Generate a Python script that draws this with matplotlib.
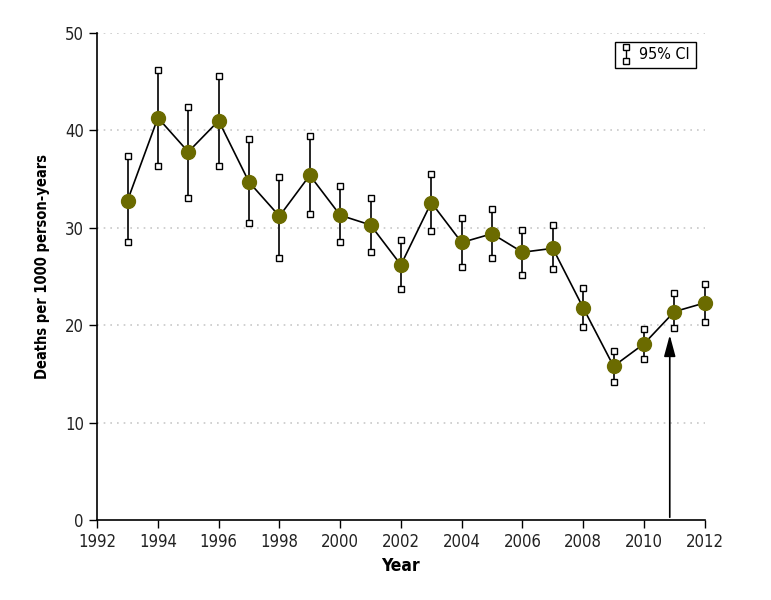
import numpy as np
import matplotlib.pyplot as plt
from matplotlib.legend_handler import HandlerBase
from matplotlib.lines import Line2D

plt.rcParams['font.family'] = ['DejaVu Sans']
plt.rcParams['font.stretch'] = 'condensed'

# data
years = [1993, 1994, 1995, 1996, 1997, 1998, 1999, 2000, 2001, 2002,
         2003, 2004, 2005, 2006, 2007, 2008, 2009, 2010, 2011, 2012]
rate = [32.8, 41.3, 37.8, 41.0, 34.7, 31.2, 35.4, 31.3, 30.3, 26.2,
        32.6, 28.5, 29.4, 27.5, 27.9, 21.8, 15.8, 18.1, 21.4, 22.3]
ci_upper = [37.4, 46.2, 42.4, 45.6, 39.1, 35.2, 39.4, 34.3, 33.1, 28.8,
            35.5, 31.0, 31.9, 29.8, 30.3, 23.8, 17.4, 19.6, 23.3, 24.2]
ci_lower = [28.5, 36.3, 33.1, 36.3, 30.5, 26.9, 31.4, 28.5, 27.5, 23.7,
            29.7, 26.0, 26.9, 25.2, 25.8, 19.8, 14.2, 16.5, 19.7, 20.3]
arrow_year = 2010.85
arrow_top = 19.0

x_ticks = list(range(1992, 2013, 2))
y_ticks = [0, 10, 20, 30, 40, 50]


class CIHandler(HandlerBase):
    # little vertical bar with two open squares, like the CI whiskers
    def create_artists(self, legend, orig_handle, xdescent, ydescent,
                       width, height, fontsize, trans):
        cx = width / 2 - xdescent
        y0 = -ydescent - 1
        y1 = height - ydescent + 1
        ln = Line2D([cx, cx], [y0, y1], color='black', lw=1, transform=trans)
        caps = Line2D([cx, cx], [y0, y1], ls='none', marker='s', ms=4.5,
                      mfc='white', mec='black', mew=1, transform=trans)
        return [ln, caps]


fig = plt.figure(figsize=(7.71, 6), dpi=100)
ax = fig.add_axes([0.126, 0.133, 0.788, 0.812])

yrs = np.array(years)
lo = np.array(ci_lower)
hi = np.array(ci_upper)
ax.vlines(yrs, lo, hi, color='black', lw=1.2, zorder=2, clip_on=False)
ax.plot(yrs, hi, ls='none', marker='s', ms=4.5, mfc='white', mec='black', mew=1,
        zorder=3, clip_on=False)
ax.plot(yrs, lo, ls='none', marker='s', ms=4.5, mfc='white', mec='black', mew=1,
        zorder=3, clip_on=False)
ax.plot(yrs, rate, color='black', lw=1.2, zorder=4, clip_on=False)
ax.plot(yrs, rate, ls='none', marker='o', ms=10, color='#6b6b00', zorder=5, clip_on=False)

ax.annotate('', xy=(arrow_year, arrow_top), xytext=(arrow_year, 0.3),
            arrowprops=dict(arrowstyle='-|>,head_length=1.3,head_width=0.35',
                            color='black', lw=1.2, mutation_scale=10,
                            shrinkA=0, shrinkB=0))

ax.set_xlim(1992, 2012)
ax.set_ylim(0, 50)
ax.set_xticks(x_ticks)
ax.set_yticks(y_ticks)
ax.tick_params(direction='out', length=6, width=1, labelsize=12, color='black',
               labelcolor='#222222')
for y in y_ticks[1:]:
    ax.axhline(y, color='#c8c8c8', lw=1.2, ls=(0, (1, 3)), zorder=0)

ax.spines['top'].set_visible(False)
ax.spines['right'].set_visible(False)
ax.spines['left'].set_linewidth(1.2)
ax.spines['bottom'].set_linewidth(1.2)

ax.set_xlabel('Year', fontsize=12.5, fontweight='bold', labelpad=4)
ax.set_ylabel('Deaths per 1000 person-years', fontsize=10.5, fontweight='bold')
ax.yaxis.set_label_coords(-0.077, 0.52)

proxy = Line2D([], [])
leg = ax.legend([proxy], ['95% CI'], handler_map={Line2D: CIHandler()},
                loc='upper right', bbox_to_anchor=(0.985, 0.982), fontsize=11.5,
                fancybox=False, edgecolor='black', handlelength=0.7,
                handletextpad=0.5, borderpad=0.35, borderaxespad=0,
                framealpha=1)
leg.get_frame().set_linewidth(1)

fig.savefig('out.png', dpi=100)
